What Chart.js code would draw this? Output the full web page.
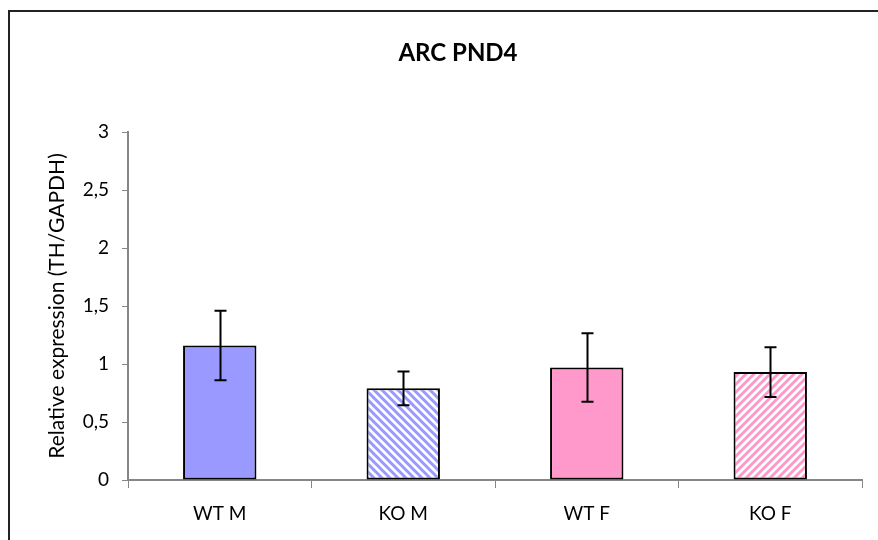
<!DOCTYPE html>
<html>
<head>
<meta charset="utf-8">
<script src="https://cdn.jsdelivr.net/npm/chart.js@4"></script>
<style>
  html, body { margin: 0; padding: 0; background: #fff; }
  #wrap { width: 878px; height: 540px; }
</style>
</head>
<body>
<div id="wrap"><canvas id="chart" width="878" height="540"></canvas></div>
<script>
var chart_title = 'ARC PND4';
var categories = ['WT M', 'KO M', 'WT F', 'KO F'];
var means = [1.16, 0.79, 0.97, 0.93];
var errors = [0.30, 0.145, 0.295, 0.215];
var y_ticks = [0, 0.5, 1, 1.5, 2, 2.5, 3];

var clr_male = '#9999FF';
var clr_female = '#FF99CC';
var axis_clr = '#868686';

// diagonal stripe fill for the KO bars
function make_stripes(color, forward) {
  var c = document.createElement('canvas');
  c.width = 8;
  c.height = 8;
  var g = c.getContext('2d');
  g.fillStyle = '#fff';
  g.fillRect(0, 0, 8, 8);
  g.strokeStyle = color;
  g.lineWidth = 3;
  g.beginPath();
  if (forward) {
    g.moveTo(-2, 10); g.lineTo(10, -2);
    g.moveTo(-2, 2); g.lineTo(2, -2);
    g.moveTo(6, 10); g.lineTo(10, 6);
  } else {
    g.moveTo(-2, -2); g.lineTo(10, 10);
    g.moveTo(-2, 6); g.lineTo(2, 10);
    g.moveTo(6, -2); g.lineTo(10, 2);
  }
  g.stroke();
  return document.getElementById('chart').getContext('2d').createPattern(c, 'repeat');
}

var fills = [clr_male, make_stripes(clr_male, false), clr_female, make_stripes(clr_female, true)];

// outer frame (left and top edges) plus the title, which sits left of centre
var frame_plugin = {
  id: 'frame',
  beforeDraw: function(chart) {
    var ctx = chart.ctx;
    ctx.save();
    ctx.strokeStyle = '#222';
    ctx.lineWidth = 2;
    ctx.beginPath();
    ctx.moveTo(9, 540);
    ctx.lineTo(9, 11);
    ctx.lineTo(878, 11);
    ctx.stroke();
    ctx.fillStyle = '#000';
    ctx.font = 'bold 24px Lato';
    ctx.textAlign = 'center';
    ctx.textBaseline = 'middle';
    ctx.fillText(chart_title, 458, 53);
    ctx.restore();
  }
};

var errbar_plugin = {
  id: 'errbars',
  afterDatasetsDraw: function(chart) {
    var ctx = chart.ctx;
    var y = chart.scales.y;
    var meta = chart.getDatasetMeta(0);
    ctx.save();
    ctx.strokeStyle = '#000';
    ctx.lineWidth = 2;
    meta.data.forEach(function(bar, i) {
      var top = y.getPixelForValue(means[i] + errors[i]);
      var bot = y.getPixelForValue(means[i] - errors[i]);
      var x = Math.round(bar.x) + 0.5;
      ctx.beginPath();
      ctx.moveTo(x, top); ctx.lineTo(x, bot);
      ctx.moveTo(x - 6, top); ctx.lineTo(x + 6, top);
      ctx.moveTo(x - 6, bot); ctx.lineTo(x + 6, bot);
      ctx.stroke();
    });
    ctx.restore();
  }
};

new Chart(document.getElementById('chart'), {
  type: 'bar',
  data: {
    labels: categories,
    datasets: [{
      data: means,
      backgroundColor: fills,
      borderColor: '#000',
      borderWidth: 2,
      borderSkipped: false,
      barPercentage: 0.4,
      categoryPercentage: 1
    }]
  },
  options: {
    responsive: false,
    animation: false,
    layout: { padding: { left: 10, right: 16, top: 132, bottom: 0 } },
    plugins: {
      legend: { display: false },
      tooltip: { enabled: false },
      title: { display: false }
    },
    scales: {
      x: {
        offset: true,
        grid: { display: true, offset: true, drawOnChartArea: false, tickLength: 8, color: axis_clr },
        border: { color: axis_clr, width: 2 },
        ticks: { color: '#000', font: { family: 'Lato', size: 19 }, padding: 14 },
        afterFit: function(s) { s.height = 60; }
      },
      y: {
        min: 0,
        max: 3,
        afterBuildTicks: function(s) { s.ticks = y_ticks.map(function(v) { return { value: v }; }); },
        grid: { display: true, drawOnChartArea: false, tickLength: 6, color: axis_clr },
        border: { color: axis_clr, width: 2 },
        ticks: {
          color: '#000',
          font: { family: 'Lato', size: 19 },
          padding: 13,
          callback: function(v) { return String(v).replace('.', ','); }
        },
        title: {
          display: true,
          text: 'Relative expression (TH/GAPDH)',
          color: '#000',
          font: { family: 'Lato', size: 21 },
          padding: { top: 35, bottom: 0 }
        },
        afterFit: function(s) { s.width = 118; }
      }
    }
  },
  plugins: [frame_plugin, errbar_plugin]
});
</script>
</body>
</html>
